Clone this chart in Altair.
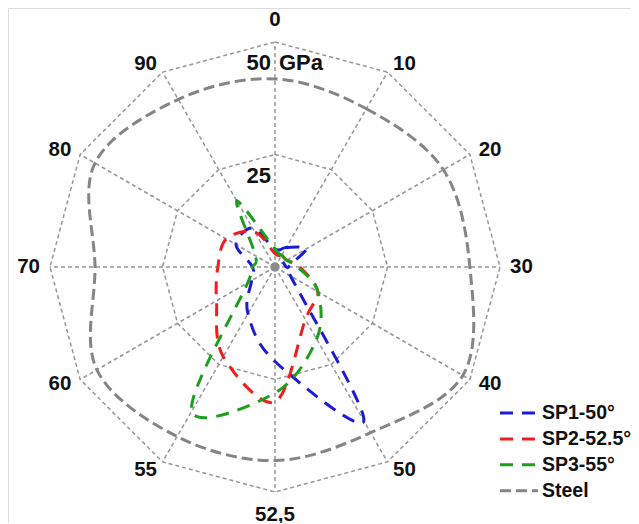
import altair as alt
import pandas as pd

# ---- data ----
spokes = ["0", "10", "20", "30", "40", "50", "52,5", "55", "60", "70", "80", "90"]
sp1 = [4, 5, 8, 3, 4, 39.5, 21, 12, 6, 5, 10, 10]
sp2 = [3, 3, 3, 5.5, 11, 13.5, 30, 23, 15, 12.7, 12.5, 9]
sp3 = [4, 3, 3, 5, 11, 18.5, 28, 37, 7, 5, 5, 17]
steel = [41.8, 40.6, 43.2, 43.3, 48.2, 42.5, 43, 43.5, 45.7, 40, 46.2, 43]
series_names = ["SP1-50°", "SP2-52.5°", "SP3-55°", "Steel"]
series_colors = ["#1c1cd4", "#f01e1e", "#1e9e1e", "#858585"]
series_dash = [[13, 9], [13, 9], [13, 9], [11, 5]]
ring_values = [25, 50]
ring_labels = ["25", "50"]
unit_label = "GPa"

n = len(spokes)
rows = []
for name, vals in zip(series_names, [sp1, sp2, sp3, steel]):
    for i, v in enumerate(vals):
        rows.append({"series": name, "idx": i, "value": v})
df = pd.DataFrame(rows)

ring_df = pd.DataFrame([{"ring": r, "idx": i} for r in ring_values for i in range(n)])
spoke_df = pd.DataFrame({"spoke": spokes, "idx": list(range(n)), "r": [max(ring_values)] * n})
ringlab_df = pd.DataFrame({"ring": ring_values, "label": ring_labels})
unit_df = pd.DataFrame({"ring": [max(ring_values)], "label": [unit_label]})
center_df = pd.DataFrame({"value": [0]})

PX = 4.5  # pixels per GPa
W, H = 623, 515
cx, cy = 267, 259
xs = alt.Scale(domain=[-cx / PX, (W - cx) / PX], nice=False, zero=False)
ys = alt.Scale(domain=[-(H - cy) / PX, cy / PX], nice=False, zero=False)
X = lambda f: alt.X(f, scale=xs, axis=None)
Y = lambda f: alt.Y(f, scale=ys, axis=None)

FONT = "Liberation Sans"
grid_color = "#979797"

rings = alt.Chart(ring_df).transform_calculate(
    x="datum.ring * sin(datum.idx * PI / 6)",
    y="datum.ring * cos(datum.idx * PI / 6)",
).mark_line(interpolate="linear-closed", color=grid_color, strokeWidth=1.5,
            strokeDash=[4, 3]).encode(
    x=X("x:Q"), y=Y("y:Q"), detail="ring:N", order="idx:Q")

spoke_lines = alt.Chart(spoke_df).transform_calculate(
    x="0 * datum.r", y="0 * datum.r",
    xe="datum.r * sin(datum.idx * PI / 6)",
    ye="datum.r * cos(datum.idx * PI / 6)",
).mark_rule(color=grid_color, strokeWidth=1.5, strokeDash=[4, 3]).encode(
    x=X("x:Q"), y=Y("y:Q"), x2="xe:Q", y2="ye:Q")


def spoke_text_layer(filter_expr, align, extra, dx):
    return alt.Chart(spoke_df).transform_filter(filter_expr).transform_calculate(
        x=f"(datum.r + {extra}) * sin(datum.idx * PI / 6)",
        y=f"(datum.r + {extra}) * cos(datum.idx * PI / 6)",
    ).mark_text(font=FONT, fontSize=20.5, fontWeight="bold", color="#111",
                align=align, baseline="middle", dx=dx).encode(
        x=X("x:Q"), y=Y("y:Q"), text="spoke:N")


text_right = spoke_text_layer("datum.idx > 0 && datum.idx < 6", "left", 2, 1)
text_left = spoke_text_layer("datum.idx > 6", "right", 2, -1)
text_mid = spoke_text_layer("datum.idx == 0 || datum.idx == 6", "center", 5, 0)

ring_text = alt.Chart(ringlab_df).transform_calculate(
    x="0 * datum.ring", y="datum.ring"
).mark_text(font=FONT, fontSize=22, fontWeight="bold", color="#111",
            align="right", baseline="middle", dx=-4, dy=21).encode(
    x=X("x:Q"), y=Y("y:Q"), text="label:N")

unit_text = alt.Chart(unit_df).transform_calculate(
    x="0 * datum.ring", y="datum.ring"
).mark_text(font=FONT, fontSize=22, fontWeight="bold", color="#111",
            align="left", baseline="middle", dx=4, dy=21).encode(
    x=X("x:Q"), y=Y("y:Q"), text="label:N")

legend = alt.Legend(
    title=None, orient="none", legendX=490, legendY=394,
    symbolType="stroke", symbolStrokeWidth=3.5, symbolSize=1450,
    labelFont=FONT, labelFontSize=19.5, labelFontWeight="bold", labelColor="#111",
    labelOffset=2, clipHeight=22, rowPadding=3.9,
)

curves = alt.Chart(df).transform_calculate(
    x="datum.value * sin(datum.idx * PI / 6)",
    y="datum.value * cos(datum.idx * PI / 6)",
).mark_line(interpolate="cardinal-closed", tension=0).encode(
    x=X("x:Q"), y=Y("y:Q"),
    color=alt.Color("series:N", scale=alt.Scale(domain=series_names, range=series_colors),
                    legend=legend),
    strokeDash=alt.StrokeDash("series:N", scale=alt.Scale(domain=series_names, range=series_dash),
                              legend=legend),
    strokeWidth=alt.StrokeWidth("series:N", scale=alt.Scale(domain=series_names, range=[3, 3, 3, 4]),
                                legend=None),
    order="idx:Q",
)

center = alt.Chart(center_df).mark_circle(color="#8a8a8a", size=90, opacity=1).encode(
    x=X("value:Q"), y=Y("value:Q"))

chart = alt.layer(rings, spoke_lines, curves, center, text_right, text_left, text_mid,
                  ring_text, unit_text).properties(
    width=W, height=H, padding=0, autosize=alt.AutoSizeParams(type="none")
).configure_view(stroke=None).configure(background="white")

chart.save("out.html", embed_options={"renderer": "svg", "actions": False})
